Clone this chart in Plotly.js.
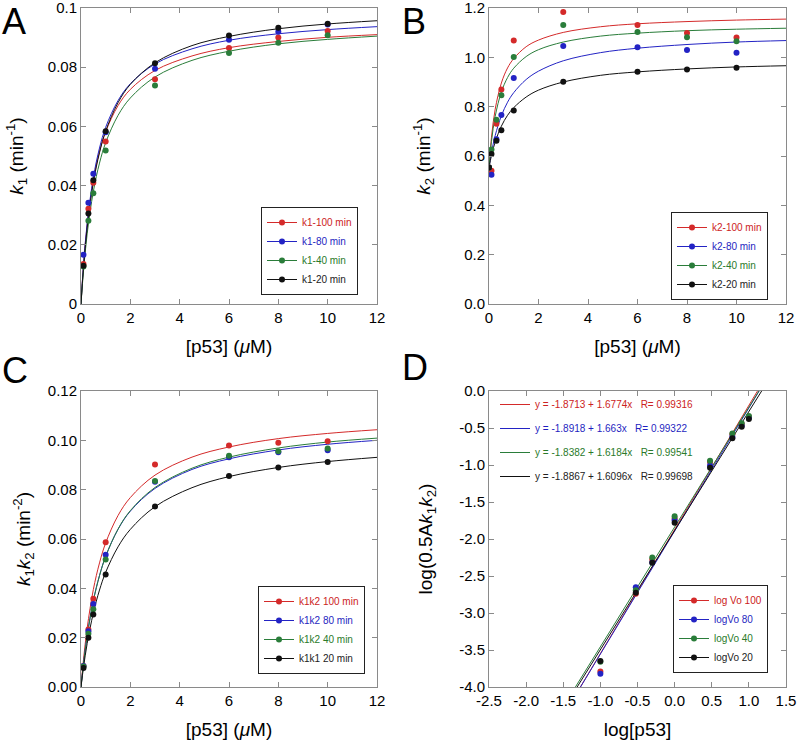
<!DOCTYPE html>
<html>
<head>
<meta charset="utf-8">
<script src="https://cdn.plot.ly/plotly-3.0.1.min.js"></script>
<style>
  html, body { margin: 0; padding: 0; background: #fff; }
  #chart { width: 799px; height: 741px; }
</style>
</head>
<body>
<div id="chart"></div>
<script>
// measured p53 concentrations (uM)
const concX = [0.1, 0.3, 0.5, 1, 3, 6, 8, 10];
const concXB = [0, 0.1, 0.3, 0.5, 1, 3, 6, 8, 10];
const logConcX = [-1, -0.523, -0.301, 0, 0.477, 0.778, 0.903, 1];

// A : k1
const k1_100 = [0.0135, 0.0322, 0.041, 0.0549, 0.0759, 0.0865, 0.090, 0.0922];
const k1_80 = [0.0166, 0.0342, 0.044, 0.058, 0.0795, 0.0893, 0.092, 0.0944];
const k1_40 = [0.0127, 0.0281, 0.0374, 0.0519, 0.0738, 0.0848, 0.0883, 0.0908];
const k1_20 = [0.0129, 0.0306, 0.0418, 0.0584, 0.0813, 0.0907, 0.0933, 0.0947];

// B : k2
const k2_100 = [0.553, 0.540, 0.731, 0.870, 1.068, 1.184, 1.131, 1.099, 1.080];
const k2_80 = [0.553, 0.524, 0.668, 0.766, 0.916, 1.046, 1.041, 1.030, 1.019];
const k2_40 = [0.553, 0.626, 0.747, 0.846, 1.001, 1.131, 1.103, 1.081, 1.065];
const k2_20 = [0.553, 0.608, 0.662, 0.704, 0.784, 0.901, 0.942, 0.951, 0.958];

// C : k1k2
const k1k2_100 = [0.0085, 0.0233, 0.0358, 0.0587, 0.0902, 0.0979, 0.0990, 0.0996];
const k1k2_80 = [0.0085, 0.0226, 0.0336, 0.0536, 0.0832, 0.0931, 0.0952, 0.0960];
const k1k2_40 = [0.0083, 0.0216, 0.0315, 0.0517, 0.0835, 0.0938, 0.0956, 0.0967];
const k1k1_20 = [0.0077, 0.0200, 0.0294, 0.0456, 0.0732, 0.0855, 0.0890, 0.0912];

// D : log(0.5 A k1 k2)
const logVo100 = [-3.79, -2.74, -2.277, -1.723, -0.961, -0.585, -0.446, -0.347];
const logVo80 = [-3.82, -2.652, -2.318, -1.745, -1.006, -0.618, -0.470, -0.360];
const logVo40 = [-3.66, -2.692, -2.250, -1.691, -0.943, -0.573, -0.437, -0.338];
const logVo20 = [-3.65, -2.728, -2.322, -1.781, -1.037, -0.640, -0.483, -0.379];

// fitted curves
const fitX = [0, 0.1, 0.25, 0.5, 0.75, 1, 1.5, 2, 3, 4.5, 6, 8, 10, 12];
const fitA100 = [0, 0.0128, 0.0267, 0.0418, 0.0515, 0.0582, 0.0670, 0.0725, 0.0789, 0.0838, 0.0866, 0.0887, 0.0901, 0.0910];
const fitA80 = [0, 0.0131, 0.0273, 0.0427, 0.0527, 0.0597, 0.0687, 0.0744, 0.0811, 0.0862, 0.0891, 0.0913, 0.0927, 0.0937];
const fitA40 = [0, 0.0111, 0.0237, 0.0380, 0.0476, 0.0545, 0.0637, 0.0696, 0.0767, 0.0823, 0.0854, 0.0879, 0.0894, 0.0905];
const fitA20 = [0, 0.0121, 0.0257, 0.0410, 0.0511, 0.0584, 0.0680, 0.0742, 0.0815, 0.0873, 0.0904, 0.0930, 0.0946, 0.0957];

const fitB100 = [0.554, 0.676, 0.790, 0.896, 0.957, 0.995, 1.043, 1.070, 1.101, 1.124, 1.136, 1.145, 1.151, 1.155];
const fitB80 = [0.554, 0.614, 0.683, 0.763, 0.818, 0.857, 0.910, 0.944, 0.986, 1.019, 1.037, 1.052, 1.062, 1.068];
const fitB40 = [0.554, 0.659, 0.761, 0.860, 0.918, 0.956, 1.003, 1.031, 1.062, 1.086, 1.098, 1.108, 1.114, 1.118];
const fitB20 = [0.554, 0.602, 0.657, 0.721, 0.765, 0.796, 0.839, 0.867, 0.900, 0.927, 0.941, 0.953, 0.961, 0.966];

const fitC100 = [0, 0.0110, 0.0239, 0.0395, 0.0503, 0.0584, 0.0695, 0.0768, 0.0859, 0.0932, 0.0973, 0.1007, 0.1028, 0.1043];
const fitC80 = [0, 0.0094, 0.0209, 0.0350, 0.0452, 0.0530, 0.0639, 0.0713, 0.0805, 0.0882, 0.0925, 0.0961, 0.0984, 0.1000];
const fitC40 = [0, 0.0093, 0.0207, 0.0349, 0.0451, 0.0529, 0.0640, 0.0715, 0.0809, 0.0887, 0.0932, 0.0969, 0.0993, 0.1009];
const fitC20 = [0, 0.0079, 0.0176, 0.0300, 0.0393, 0.0465, 0.0568, 0.0639, 0.0731, 0.0808, 0.0853, 0.0890, 0.0914, 0.0931];

// linear fits in D (ends at y = -4 and y = 0)
const fitDY = [-4, 0];
const fitD100X = [-1.269, 1.116];
const fitD80X = [-1.268, 1.138];
const fitD40X = [-1.336, 1.136];
const fitD20X = [-1.313, 1.172];

const namesA = ['k1-100 min', 'k1-80 min', 'k1-40 min', 'k1-20 min'];
const namesB = ['k2-100 min', 'k2-80 min', 'k2-40 min', 'k2-20 min'];
const namesC = ['k1k2 100 min', 'k1k2 80 min', 'k1k2 40 min', 'k1k1 20 min'];
const namesD = ['log Vo 100', 'logVo 80', 'logVo 40', 'logVo 20'];
const eqD = ['y = -1.8713 + 1.6774x   R= 0.99316', 'y = -1.8918 + 1.663x   R= 0.99322',
             'y = -1.8382 + 1.6184x   R= 0.99541', 'y = -1.8867 + 1.6096x   R= 0.99698'];

// tick labels
const xTicksLin = [0, 2, 4, 6, 8, 10, 12];
const aYTicks = [0, 0.02, 0.04, 0.06, 0.08, 0.1];
const aYText = ['0', '0.02', '0.04', '0.06', '0.08', '0.1'];
const bYTicks = [0, 0.2, 0.4, 0.6, 0.8, 1.0, 1.2];
const bYText = ['0.0', '0.2', '0.4', '0.6', '0.8', '1.0', '1.2'];
const cYTicks = [0, 0.02, 0.04, 0.06, 0.08, 0.10, 0.12];
const cYText = ['0.00', '0.02', '0.04', '0.06', '0.08', '0.10', '0.12'];
const dXTicks = [-2.5, -2, -1.5, -1, -0.5, 0, 0.5, 1, 1.5];
const dXText = ['-2.5', '-2.0', '-1.5', '-1.0', '-0.5', '0.0', '0.5', '1.0', '1.5'];
const dYTicks = [0, -0.5, -1, -1.5, -2, -2.5, -3, -3.5, -4];
const dYText = ['0.0', '-0.5', '-1.0', '-1.5', '-2.0', '-2.5', '-3.0', '-3.5', '-4.0'];

const COLORS = ['#d42a2a', '#2323c4', '#2a7d3a', '#111111'];
const TEXT_COLORS = ['#cc2222', '#1f1fbf', '#2a7a2a', '#222222'];
const FONT = 'Liberation Sans, Arial, sans-serif';

function colored(s, i) {
  return '<span style="color:' + TEXT_COLORS[i] + '">' + s.replace(/ {2,}/g, m => '\u00a0'.repeat(m.length)) + '</span>';
}

function panel(xa, ya, legendId, xs, points, fx, fits, names) {
  var traces = [];
  fits.forEach((f, i) => {
    traces.push({
      x: fx[i], y: f, xaxis: xa, yaxis: ya, mode: 'lines',
      line: {color: COLORS[i], width: 1, shape: 'spline'},
      showlegend: false, hoverinfo: 'skip'
    });
  });
  points.forEach((p, i) => {
    traces.push({
      x: xs, y: p, xaxis: xa, yaxis: ya, mode: 'markers',
      marker: {color: COLORS[i], size: 6},
      showlegend: false
    });
  });
  // legend entries (line + dot)
  names.forEach((n, i) => {
    traces.push({
      x: [null], y: [null], xaxis: xa, yaxis: ya, mode: 'lines+markers',
      name: colored(n, i), legend: legendId,
      line: {color: COLORS[i], width: 1}, marker: {color: COLORS[i], size: 6}
    });
  });
  return traces;
}

// straight fit lines of D go under everything else
var fitLinesD = [fitD100X, fitD80X, fitD40X, fitD20X].map((fx, i) => ({
  x: fx, y: fitDY, xaxis: 'x4', yaxis: 'y4', mode: 'lines',
  line: {color: COLORS[i], width: 1},
  name: colored(eqD[i], i), legend: 'legend5', legendgroup: 'eq' + i,
  hoverinfo: 'skip'
}));

var data = fitLinesD.concat(
  panel('x', 'y', 'legend', concX, [k1_100, k1_80, k1_40, k1_20],
        [fitX, fitX, fitX, fitX], [fitA100, fitA80, fitA40, fitA20], namesA),
  panel('x2', 'y2', 'legend2', concXB, [k2_100, k2_80, k2_40, k2_20],
        [fitX, fitX, fitX, fitX], [fitB100, fitB80, fitB40, fitB20], namesB),
  panel('x3', 'y3', 'legend3', concX, [k1k2_100, k1k2_80, k1k2_40, k1k1_20],
        [fitX, fitX, fitX, fitX], [fitC100, fitC80, fitC40, fitC20], namesC),
  panel('x4', 'y4', 'legend4', logConcX, [logVo100, logVo80, logVo40, logVo20],
        [], [], namesD)
);

function axis(extra) {
  return Object.assign({
    showline: true, mirror: 'ticks', linecolor: '#8a8a8a', linewidth: 1,
    ticks: 'inside', ticklen: 5, tickcolor: '#8a8a8a', tickwidth: 1,
    showgrid: false, zeroline: false, fixedrange: true,
    ticklabeloverflow: 'allow',
    tickfont: {size: 15, color: '#000'}
  }, extra);
}

var W = 799, H = 741;
var colL = [81 / W, 377 / W], colR = [489 / W, 786 / W];
var rowT = [1 - 304 / H, 1 - 8 / H], rowB = [1 - 687 / H, 1 - 391 / H];
var xTitle = {text: '[p53] (<i>\u03bc</i>M)', font: {size: 19}, standoff: 14};

function legendBox(x, y) {
  return {
    x: x / W, xanchor: 'right', y: 1 - y / H, yanchor: 'bottom',
    bgcolor: '#fff', bordercolor: '#222', borderwidth: 1,
    font: {size: 10, family: FONT}, tracegroupgap: 0
  };
}

function letter(t, x, y) {
  return {text: t, xref: 'paper', yref: 'paper', x: x / W, y: 1 - y / H,
          xanchor: 'left', yanchor: 'top', showarrow: false,
          font: {size: 36, family: FONT, color: '#000'}};
}

var layout = {
  width: W, height: H,
  margin: {l: 0, r: 0, t: 0, b: 0},
  paper_bgcolor: '#fff', plot_bgcolor: '#fff',
  font: {family: FONT, color: '#000'},
  showlegend: true,
  xaxis: axis({domain: colL, anchor: 'y', range: [0, 12], tickvals: xTicksLin, title: xTitle}),
  yaxis: axis({domain: rowT, anchor: 'x', range: [0, 0.1], tickvals: aYTicks, ticktext: aYText,
    title: {text: '<i>k</i><sub>1</sub> (min<sup>-1</sup>)', font: {size: 19}, standoff: 19}}),
  xaxis2: axis({domain: colR, anchor: 'y2', range: [0, 12], tickvals: xTicksLin, title: xTitle}),
  yaxis2: axis({domain: rowT, anchor: 'x2', range: [0, 1.2], tickvals: bYTicks, ticktext: bYText,
    title: {text: '<i>k</i><sub>2</sub> (min<sup>-1</sup>)', font: {size: 19}, standoff: 28}}),
  xaxis3: axis({domain: colL, anchor: 'y3', range: [0, 12], tickvals: xTicksLin, title: xTitle}),
  yaxis3: axis({domain: rowB, anchor: 'x3', range: [0, 0.12], tickvals: cYTicks, ticktext: cYText,
    title: {text: '<i>k</i><sub>1</sub><i>k</i><sub>2</sub> (min<sup>-2</sup>)', font: {size: 19}, standoff: 12}}),
  xaxis4: axis({domain: colR, anchor: 'y4', range: [-2.5, 1.5], tickvals: dXTicks, ticktext: dXText,
    title: {text: 'log[p53]', font: {size: 19}, standoff: 14}}),
  yaxis4: axis({domain: rowB, anchor: 'x4', range: [-4, 0], tickvals: dYTicks, ticktext: dYText,
    title: {text: 'log(0.5A<i>k</i><sub>1</sub><i>k</i><sub>2</sub>)', font: {size: 19}, standoff: 21}}),
  legend: legendBox(358, 295),
  legend2: legendBox(768, 300),
  legend3: legendBox(365, 674),
  legend4: legendBox(768, 673),
  legend5: {
    x: 495 / W, xanchor: 'left', y: 1 - 390 / H, yanchor: 'top',
    bgcolor: 'rgba(0,0,0,0)', borderwidth: 0, traceorder: 'grouped',
    tracegroupgap: 5, font: {size: 10, family: FONT}
  },
  annotations: [
    letter('A', 0, -1),
    letter('B', 400, -1),
    letter('C', 0, 348),
    letter('D', 400, 345)
  ]
};

Plotly.newPlot('chart', data, layout, {displayModeBar: false, staticPlot: true});
</script>
</body>
</html>
